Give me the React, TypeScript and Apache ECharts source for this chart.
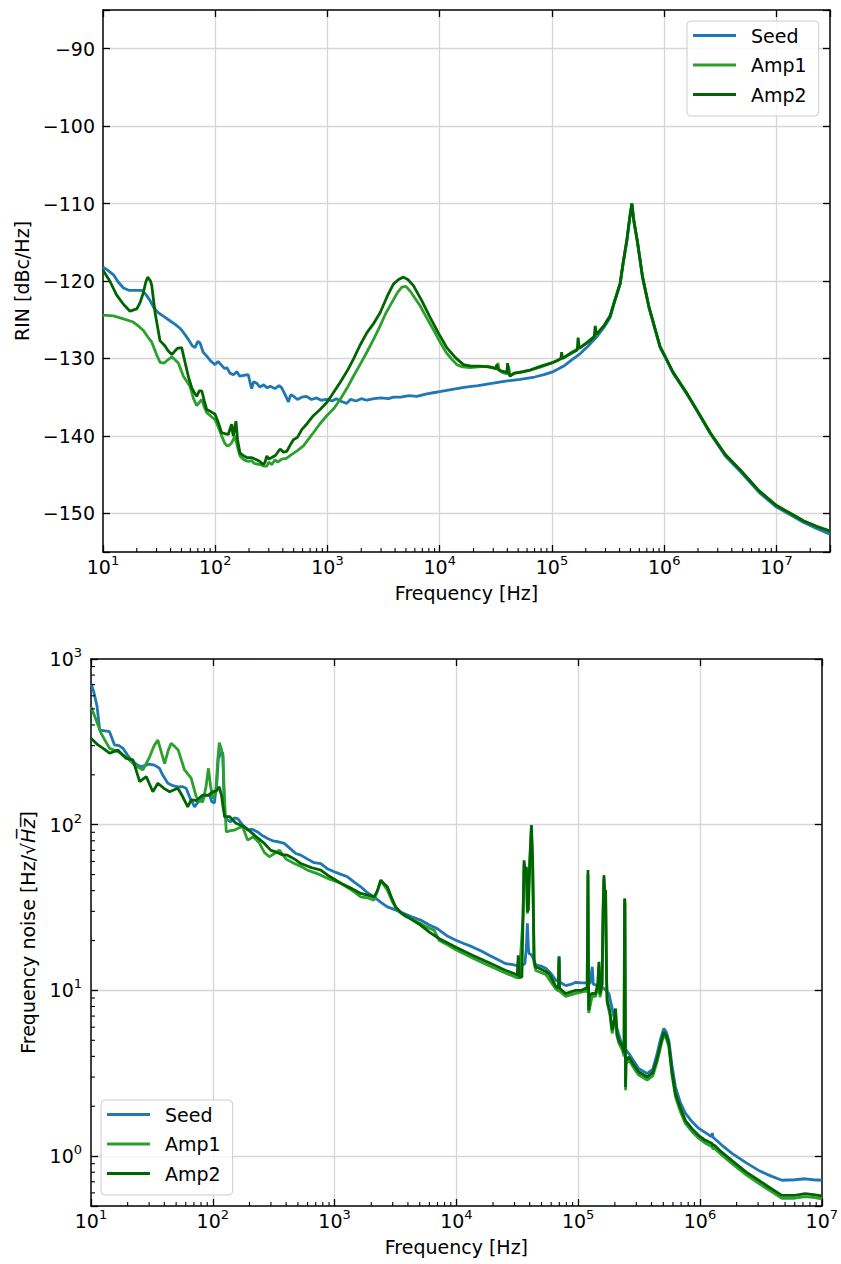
import React, { useEffect, useRef } from 'react';
import * as echarts from 'echarts';

const FONT = 'DejaVu Sans';
const SERIES_NAMES = ['Seed', 'Amp1', 'Amp2'];
const COLORS = ['#1f77b4', '#2ca02c', '#006400'];
const RIN_Y_TICKS = [-150, -140, -130, -120, -110, -100, -90];

// ---- Top panel: RIN [dBc/Hz] vs frequency [Hz]
const RIN_SEED: [number, number][] = [
  [10, -118.2], [11, -118.6], [12.4, -119.2], [13.6, -120.1], [15.2, -120.9], [17, -121.2], [19.5, -121.2],
  [22.1, -121.2], [24, -121.7], [26.2, -122.5], [28.5, -123.5], [31.1, -124.1], [35, -124.6], [40, -125.2],
  [44, -125.6], [48.5, -126.1], [53, -126.8], [58, -127.6], [62, -128.3], [66, -128.6], [70, -127.8],
  [73.2, -128.0], [78, -129.2], [84, -129.7], [92, -130.4], [99.6, -130.8], [106, -130.4], [114, -130.9],
  [121, -131.3], [127, -131.2], [135, -131.9], [145, -132.1], [156, -131.7], [165, -132.3], [180, -132.2],
  [197, -132.1], [205, -133.2], [211, -133.9], [220, -133.0], [234, -133.2], [250, -133.7], [270, -133.4],
  [288, -133.8], [310, -133.6], [340, -133.9], [370, -133.5], [391, -133.8], [420, -134.7], [449, -135.6],
  [470, -134.7], [500, -134.9], [540, -135.3], [590, -135.0], [650, -134.9], [720, -135.3], [800, -135.1],
  [880, -135.4], [985, -135.3], [1100, -135.5], [1200, -135.2], [1350, -135.6], [1486, -135.8], [1600, -135.3],
  [1800, -135.5], [2000, -135.2], [2240, -135.4], [2600, -135.2], [3000, -135.1], [3500, -135.2], [3866, -135.0],
  [4500, -135.0], [5300, -134.8], [6250, -134.9], [7500, -134.6], [9000, -134.4], [10000, -134.3], [13000, -134.0],
  [17000, -133.7], [22000, -133.5], [30000, -133.2], [40000, -132.9], [52000, -132.7], [70000, -132.4],
  [85000, -132.1], [103000, -131.7], [130000, -130.9], [150000, -130.2], [178000, -129.4], [210000, -128.4],
  [251000, -127.2], [290000, -126.0], [330000, -124.7], [356000, -123.0], [405000, -120.4], [430000, -117.8],
  [465000, -114.8], [490000, -112.2], [515000, -110.0], [535000, -112.2], [580000, -115.2], [640000, -119.5],
  [730000, -123.4], [920000, -128.6], [1.0e6, -129.6], [1.2e6, -131.9], [1.59e6, -134.6], [2.0e6, -137.0],
  [2.57e6, -139.7], [3.5e6, -142.6], [4.76e6, -144.6], [7e6, -147.3], [1.0e7, -149.2], [1.4e7, -150.4],
  [1.75e7, -151.2], [2.3e7, -152.0], [3.0e7, -152.7],
];

const RIN_AMP1: [number, number][] = [
  [10, -124.4], [12.4, -124.5], [15.2, -124.9], [18.6, -125.3], [21, -125.9], [22.9, -126.4], [25, -127.2],
  [27.2, -127.9], [30, -129.5], [32.2, -130.5], [35, -130.6], [37, -130.3], [41, -129.8], [44, -130.2],
  [46.9, -130.6], [52, -132.3], [56, -133.0], [59.6, -133.6], [64, -135.2], [68.4, -136.1], [72, -135.7],
  [75.8, -135.3], [80, -136.3], [84, -137.0], [92, -137.5], [99.6, -137.9], [106, -138.8], [114, -140.0],
  [121, -140.9], [127, -141.3], [134, -141.2], [140, -140.9], [150, -140.0], [158, -141.5], [166, -142.6],
  [180, -143.1], [197, -143.3], [210, -143.2], [225, -143.6], [251, -143.7], [270, -143.9], [288, -143.9],
  [300, -143.4], [320, -143.7], [340, -143.1], [360, -143.4], [391, -143.0], [430, -142.9], [481, -142.4],
  [540, -141.9], [610, -141.3], [680, -140.4], [748, -139.6], [850, -138.5], [985, -137.4], [1150, -136.4],
  [1296, -135.3], [1500, -133.8], [1703, -132.3], [1950, -130.8], [2240, -129.2], [2600, -127.4], [2944, -125.8],
  [3300, -124.2], [3740, -122.8], [4200, -121.5], [4590, -120.8], [5000, -120.7], [5445, -121.3], [6000, -122.2],
  [6685, -123.2], [7675, -124.8], [8790, -126.3], [10090, -127.9], [11500, -129.3], [13000, -130.2],
  [14200, -130.8], [16000, -131.1], [18660, -131.2], [22000, -131.1], [26300, -131.0], [30000, -131.2],
  [32260, -131.4], [33000, -130.6], [33800, -131.5], [36000, -131.8], [40000, -132.0], [41000, -131.0],
  [42400, -132.2], [47000, -131.9], [55000, -131.7], [63900, -131.5], [80000, -131.1], [103000, -130.5],
  [130000, -129.8], [150000, -129.2], [178000, -128.6], [210000, -127.8], [251000, -126.9], [290000, -125.8],
  [330000, -124.5], [356000, -122.9], [405000, -120.3], [430000, -117.7], [465000, -114.7], [490000, -112.1],
  [515000, -110.0], [535000, -112.1], [580000, -115.1], [640000, -119.4], [730000, -123.3], [920000, -128.5],
  [1.0e6, -129.5], [1.2e6, -131.8], [1.59e6, -134.5], [2.0e6, -136.9], [2.57e6, -139.6], [3.5e6, -142.4],
  [4.76e6, -144.4], [7e6, -147.1], [1.0e7, -149.0], [1.4e7, -150.2], [1.75e7, -151.0], [2.3e7, -151.7],
  [3.0e7, -152.3],
];

const RIN_AMP2: [number, number][] = [
  [10, -118.6], [11.5, -120.0], [13.2, -121.8], [15.2, -123.0], [17.4, -123.9], [20, -123.6], [21.4, -122.8],
  [22.9, -121.5], [24, -120.2], [25, -119.5], [26.5, -120.0], [27.2, -120.6], [29.1, -124.1], [32.2, -127.7],
  [35.7, -128.4], [38, -129.0], [41, -129.5], [44, -129.0], [46, -128.7], [50.2, -128.6], [53.8, -130.5],
  [58, -132.5], [61.8, -133.8], [65, -134.4], [68.4, -134.9], [72, -134.2], [75.8, -134.2], [80, -135.5],
  [84, -136.6], [92, -136.9], [99.6, -137.2], [106, -138.2], [114, -139.6], [122, -139.7], [131, -139.8],
  [136, -139.0], [140, -138.5], [143, -139.6], [145, -140.0], [149, -139.0], [153, -138.1], [158, -140.5],
  [166, -142.2], [180, -142.6], [191, -142.8], [210, -142.8], [234, -143.1], [250, -143.3], [268, -143.7],
  [278, -143.4], [288, -142.6], [300, -143.0], [319, -142.8], [345, -142.5], [378, -141.7], [405, -142.1],
  [434, -142.0], [465, -141.2], [497, -140.5], [540, -140.2], [590, -139.2], [660, -138.4], [748, -137.4],
  [860, -136.6], [985, -135.7], [1120, -134.5], [1296, -133.1], [1500, -131.6], [1703, -130.1], [1950, -128.3],
  [2240, -126.7], [2600, -125.4], [2944, -124.1], [3400, -122.0], [3866, -120.4], [4300, -119.8], [4745, -119.5],
  [5200, -119.8], [5830, -120.6], [6900, -122.5], [8205, -124.7], [9800, -126.8], [11560, -128.6],
  [13800, -129.9], [16260, -130.8], [19000, -131.0], [22900, -131.0], [27000, -131.1], [31500, -131.3],
  [32260, -130.8], [33000, -131.4], [35000, -131.6], [39600, -131.8], [40300, -130.6], [41000, -131.9],
  [42400, -132.3], [46000, -131.9], [52000, -131.8], [63900, -131.5], [80000, -131.0], [103000, -130.5],
  [115000, -130.2], [120000, -130.0], [122000, -129.2], [124000, -130.0], [150000, -129.3], [168000, -128.9],
  [171000, -127.3], [175000, -128.7], [210000, -127.9], [238000, -127.2], [243000, -125.8], [248000, -126.9],
  [290000, -125.8], [330000, -124.5], [356000, -122.9], [405000, -120.3], [430000, -117.7], [465000, -114.7],
  [490000, -112.1], [515000, -110.0], [535000, -112.1], [580000, -115.1], [640000, -119.4], [730000, -123.3],
  [920000, -128.5], [1.0e6, -129.5], [1.2e6, -131.8], [1.59e6, -134.5], [2.0e6, -136.9], [2.57e6, -139.6],
  [3.5e6, -142.4], [4.76e6, -144.4], [7e6, -147.1], [1.0e7, -149.0], [1.4e7, -150.2], [1.75e7, -151.0],
  [2.3e7, -151.7], [3.0e7, -152.3],
];

// ---- Bottom panel: frequency noise [Hz/sqrt(Hz)] vs frequency [Hz]
const FN_SEED: [number, number][] = [
  [10, 713], [10.5, 640], [11.2, 520], [11.8, 372], [13, 368], [14.2, 364], [15.6, 303], [17, 300], [18.3, 289],
  [20, 262], [21.4, 246], [23.5, 232], [25.8, 224], [28, 228], [30, 232], [33.2, 229], [36.5, 219], [39, 198],
  [42.8, 178], [47, 172], [51.6, 169], [56, 170], [60.4, 166], [65, 145], [70.8, 128], [75, 136], [80.2, 141],
  [87, 150], [94, 151], [98, 138], [103, 135], [108, 180], [111, 250], [113, 257], [117, 275], [121, 270],
  [123, 160], [125, 112], [132, 107], [140, 104], [150, 110], [160, 109], [175, 100], [193, 92.7], [210, 94],
  [233, 90.5], [255, 86], [282, 82.6], [310, 80], [340, 79], [386, 77.1], [430, 72], [480, 67], [528, 65.5],
  [600, 62], [680, 59], [771, 58.3], [880, 54], [993, 52], [1100, 50.5], [1276, 48.5], [1450, 45], [1641, 42.2],
  [1850, 39], [2111, 36.7], [2400, 34], [2712, 31.9], [3200, 30.5], [3715, 29.1], [4300, 27.8], [5080, 26.6],
  [6000, 24.8], [6966, 23.6], [8500, 21.2], [9910, 20.1], [11500, 19.2], [13550, 18.3], [16000, 17.3],
  [18580, 16.3], [22000, 15.3], [25450, 14.5], [29000, 14.3], [31690, 14.1], [33000, 14.0], [35000, 14.2],
  [36500, 14.5], [37500, 18], [38280, 25.4], [39000, 18], [39540, 16.7], [41000, 16.5], [43000, 15.5],
  [44860, 14.2], [50000, 14.0], [54200, 13.6], [60000, 12.6], [65460, 11.5], [68500, 11.3], [69660, 16.1],
  [70800, 11.2], [79030, 10.7], [88000, 10.9], [95430, 11.2], [105000, 11.1], [115200, 11.1], [125000, 11.0],
  [130500, 13.9], [133000, 10.9], [150000, 10.6], [165000, 10.2], [178600, 9.57], [190000, 7.8], [202700, 6.3],
  [222800, 5.0], [240000, 4.5], [260700, 4.16], [314700, 3.37], [368200, 3.15], [410000, 3.35], [444800, 4.16],
  [475000, 5.1], [504700, 5.89], [530000, 5.6], [554600, 5.0], [590000, 3.5], [629400, 2.61], [690000, 2.1],
  [759800, 1.81], [870000, 1.6], [977100, 1.47], [1.1e6, 1.39], [1.24e6, 1.31], [1.26e6, 1.38], [1.28e6, 1.3],
  [1.5e6, 1.17], [1.832e6, 1.04], [2.4e6, 0.91], [3.03e6, 0.82], [3.8e6, 0.76], [4.7e6, 0.715], [6.0e6, 0.72],
  [7.31e6, 0.73], [8.5e6, 0.72], [1e7, 0.715],
];

const FN_AMP1: [number, number][] = [
  [10, 515], [11, 430], [12.1, 356], [14.2, 289], [16.6, 276], [20.1, 251], [22.8, 229], [26.7, 214], [30.3, 257],
  [33, 300], [35.4, 324], [38, 270], [40.2, 234], [43, 280], [45.5, 310], [49, 295], [52, 282], [58.6, 214],
  [66.4, 191], [73, 148], [77, 140], [82.8, 137], [88, 170], [92.1, 219], [96, 170], [100, 144], [106, 160],
  [110, 250], [113, 313], [117, 290], [121, 257], [125, 140], [129, 90.5], [140, 92], [150, 92.7], [165, 96],
  [176, 97.1], [193, 80.7], [215, 84.5], [240, 78], [265, 68], [291, 64.0], [330, 68], [352, 70.3], [400, 62],
  [467, 58.3], [530, 56], [600, 53.2], [700, 51], [771, 49.6], [900, 47], [1125, 44.3], [1400, 40], [1641, 36.7],
  [1900, 36], [2111, 35.1], [2250, 40], [2393, 46.2], [2550, 43], [2712, 40.3], [3000, 34], [3273, 30.5],
  [3800, 28], [4487, 26.6], [5500, 24.5], [6546, 23.1], [7244, 20.0], [8500, 18.8], [9910, 17.6], [13550, 15.7],
  [18580, 14.1], [25450, 12.7], [31690, 11.9], [32200, 15], [32720, 11.7], [35300, 28], [35960, 58], [37000, 45],
  [37560, 53], [38280, 29], [40000, 55], [41300, 95], [42300, 55], [43450, 14.5], [44860, 13.2], [54200, 12.5],
  [65460, 10.2], [69000, 9.9], [69660, 15], [70300, 9.9], [79030, 9.2], [95430, 9.6], [115200, 9.9],
  [118500, 9.8], [120300, 50], [122000, 7.3], [130000, 9.2], [139000, 9.2], [145000, 10.5], [148000, 14],
  [151000, 9.1], [157000, 10.5], [160000, 28], [162700, 47], [165000, 38], [168000, 38], [171000, 11.5],
  [173000, 8.4], [182000, 7.2], [190100, 5.5], [197000, 6.2], [202700, 7.4], [208000, 5.3], [215800, 4.8],
  [230000, 4.4], [238000, 4.0], [240300, 34], [242000, 33], [244900, 2.5], [247000, 3.6], [260700, 3.8],
  [290000, 3.35], [314700, 3.08], [368200, 2.88], [410000, 3.05], [444800, 3.72], [480000, 4.7], [504700, 5.4],
  [530000, 5.1], [554600, 4.6], [590000, 3.05], [629400, 2.28], [690000, 1.86], [759800, 1.57], [870000, 1.39],
  [977100, 1.28], [1.1e6, 1.2], [1.256e6, 1.14], [1.28e6, 1.1], [1.3e6, 1.12], [1.5e6, 1.02], [1.832e6, 0.90],
  [2.4e6, 0.77], [3.03e6, 0.685], [3.8e6, 0.615], [4.7e6, 0.557], [6.0e6, 0.557], [7.31e6, 0.57], [8.5e6, 0.563],
  [1e7, 0.553],
];

const FN_AMP2: [number, number][] = [
  [10, 332], [11.4, 303], [12.5, 290], [14.2, 270], [16.6, 282], [19.5, 251], [22.1, 246], [25.1, 182],
  [28.4, 195], [32.2, 158], [35.4, 178], [40, 165], [44.2, 158], [51.6, 166], [56, 150], [62.3, 128], [66.4, 141],
  [73, 140], [82.8, 151], [92.1, 151], [100, 158], [107, 160], [113, 169], [118, 150], [121, 130], [125, 112],
  [137, 112], [155, 102], [182, 97.1], [200, 92], [219, 86.5], [240, 82], [265, 77.1], [300, 70], [330, 68.5],
  [370, 66], [411, 65.5], [470, 62], [528, 58.3], [650, 55], [771, 53.2], [900, 49], [1125, 44.3], [1400, 41],
  [1641, 38.5], [1900, 37.5], [2111, 36.7], [2250, 40], [2393, 46.2], [2550, 44], [2712, 42.2], [2950, 36],
  [3172, 31.9], [3500, 29.5], [3953, 27.8], [4500, 26.2], [5080, 24.8], [6000, 22.5], [7244, 20.5], [8500, 19.3],
  [9910, 18.2], [13550, 16.3], [18580, 14.7], [25450, 13.2], [30000, 12.6], [31690, 12.4], [32200, 16.3],
  [32720, 12.1], [34500, 12.0], [35300, 30], [35960, 61], [36800, 50], [37560, 55.7], [38280, 30], [39000, 30.5],
  [40000, 60], [41300, 99.6], [42300, 60], [43450, 15.2], [44860, 13.8], [47750, 13.6], [54200, 13.0],
  [57680, 12.6], [65460, 10.6], [69000, 10.3], [69660, 15.9], [70300, 10.3], [79030, 9.57], [87000, 9.8],
  [95430, 10.0], [105000, 10.0], [115200, 10.3], [118500, 10.2], [120300, 53.2], [122000, 7.6], [124000, 9.3],
  [130000, 9.6], [139000, 9.57], [145000, 11], [148000, 14.9], [151000, 9.5], [157000, 11], [160000, 30],
  [162700, 49.6], [165000, 40], [168000, 40.3], [171000, 12], [173000, 8.73], [182000, 7.5], [190100, 5.76],
  [197000, 6.5], [202700, 7.78], [208000, 5.5], [215800, 5.0], [230000, 4.6], [238000, 4.2], [240300, 35.9],
  [242000, 35], [244900, 2.61], [247000, 3.8], [260700, 3.97], [290000, 3.5], [314700, 3.22], [368200, 3.0],
  [410000, 3.2], [444800, 3.88], [480000, 4.9], [504700, 5.61], [530000, 5.3], [554600, 4.78], [590000, 3.2],
  [629400, 2.38], [690000, 1.95], [759800, 1.64], [870000, 1.45], [977100, 1.33], [1.1e6, 1.25], [1.256e6, 1.19],
  [1.28e6, 1.15], [1.3e6, 1.17], [1.5e6, 1.06], [1.832e6, 0.94], [2.4e6, 0.80], [3.03e6, 0.715], [3.8e6, 0.64],
  [4.7e6, 0.58], [6.0e6, 0.58], [7.31e6, 0.593], [8.5e6, 0.585], [1e7, 0.575],
];

// minor ticks of the log axes (2..9 x 10^k)
const minorLogTicks = (lo: number, hi: number): number[] => {
  const out: number[] = [];
  for (let d = lo; d < hi; d *= 10) {
    for (let m = 2; m <= 9; m++) {
      const v = m * d;
      if (v > lo && v < hi) out.push(v);
    }
  }
  return out;
};

const App: React.FC = () => {
  const ref = useRef<HTMLDivElement>(null);

  useEffect(() => {
    document.body.style.margin = '0';
    if (!ref.current) return;
    const chart = echarts.init(ref.current, undefined, { renderer: 'svg' });

    const supLabel = (v: number) => {
      const e = Math.log10(v);
      const r = Math.round(e);
      if (Math.abs(e - r) > 1e-6) return '';
      return `{b|10}{s|${r}}`;
    };
    const richSup = {
      b: { fontFamily: FONT, fontSize: 19, color: '#000', lineHeight: 26 },
      s: { fontFamily: FONT, fontSize: 13, color: '#000', lineHeight: 13, verticalAlign: 'top' },
    };
    const tickIn = { show: true, inside: true, length: 7, lineStyle: { color: '#000', width: 1.3 } };
    const axisLine = { show: true, onZero: false, lineStyle: { color: '#000', width: 1.5 } };
    const split = {
      show: true,
      showMinLine: false,
      showMaxLine: false,
      lineStyle: { color: '#d6d6d6', width: 1.3 },
    };
    const nameStyle = { fontFamily: FONT, fontSize: 19, color: '#000' };

    const xMinor = (params: any, api: any) => {
      const cs = params.coordSys;
      const p = api.coord([api.value(0), api.value(1)]);
      const yb = cs.y + cs.height;
      return {
        type: 'line',
        shape: { x1: p[0], y1: yb, x2: p[0], y2: yb - 4 },
        style: { stroke: '#000', lineWidth: 1.1 },
      };
    };
    const yMinor = (params: any, api: any) => {
      const cs = params.coordSys;
      const p = api.coord([api.value(0), api.value(1)]);
      return {
        type: 'line',
        shape: { x1: cs.x, y1: p[1], x2: cs.x + 4, y2: p[1] },
        style: { stroke: '#000', lineWidth: 1.1 },
      };
    };

    const lineSeries = (name: string, data: [number, number][], idx: number, axis: number) => ({
      type: 'line',
      name,
      data,
      xAxisIndex: axis,
      yAxisIndex: axis,
      showSymbol: false,
      symbol: 'none',
      lineStyle: { color: COLORS[idx], width: 2.8 },
      itemStyle: { color: COLORS[idx] },
      z: 3 + idx,
    });

    const legendBase = {
      data: SERIES_NAMES,
      orient: 'vertical',
      icon: 'rect',
      itemWidth: 43,
      itemHeight: 3,
      itemGap: 10.5,
      padding: [5, 12, 12, 6],
      backgroundColor: 'rgba(255,255,255,0.8)',
      borderColor: '#cccccc',
      borderWidth: 1,
      borderRadius: 4,
      selectedMode: false,
      textStyle: { fontFamily: FONT, fontSize: 19, color: '#000', padding: [0, 0, 0, 10] },
    };

    const option: any = {
      animation: false,
      backgroundColor: '#fff',
      textStyle: { fontFamily: FONT },
      grid: [
        { left: 103, top: 10, width: 727, height: 542 },
        { left: 91, top: 659, width: 732, height: 547 },
      ],
      legend: [
        { ...legendBase, left: 687, top: 21 },
        { ...legendBase, left: 101, top: 1100 },
      ],
      xAxis: [
        {
          gridIndex: 0, type: 'log', logBase: 10, min: 10, max: 3e7,
          axisLine, axisTick: tickIn, splitLine: split,
          axisLabel: { formatter: supLabel, rich: richSup, margin: 2, showMinLabel: true, showMaxLabel: true },
          name: 'Frequency [Hz]', nameLocation: 'middle', nameGap: 31, nameTextStyle: nameStyle,
        },
        {
          gridIndex: 0, type: 'log', logBase: 10, min: 10, max: 3e7, position: 'top',
          axisLine, axisTick: tickIn, splitLine: { show: false }, axisLabel: { show: false },
        },
        {
          gridIndex: 1, type: 'log', logBase: 10, min: 10, max: 1e7,
          axisLine, axisTick: tickIn, splitLine: split,
          axisLabel: { formatter: supLabel, rich: richSup, margin: 2, showMinLabel: true, showMaxLabel: true },
          name: 'Frequency [Hz]', nameLocation: 'middle', nameGap: 31, nameTextStyle: nameStyle,
        },
        {
          gridIndex: 1, type: 'log', logBase: 10, min: 10, max: 1e7, position: 'top',
          axisLine, axisTick: tickIn, splitLine: { show: false }, axisLabel: { show: false },
        },
      ],
      yAxis: [
        {
          gridIndex: 0, type: 'value', min: -155, max: -85, splitNumber: 7,
          axisLine, axisTick: tickIn, splitLine: split,
          axisLabel: {
            formatter: (v: number) =>
              RIN_Y_TICKS.includes(v) ? (v < 0 ? '\u2212' + Math.abs(v) : String(v)) : '',
            fontFamily: FONT, fontSize: 19, color: '#000', margin: 8,
          },
          name: 'RIN [dBc/Hz]', nameLocation: 'middle', nameGap: 71, nameTextStyle: nameStyle,
        },
        {
          gridIndex: 0, type: 'value', min: -155, max: -85, splitNumber: 7, position: 'right',
          axisLine, axisTick: tickIn, splitLine: { show: false }, axisLabel: { show: false },
        },
        {
          gridIndex: 1, type: 'log', logBase: 10, min: 0.5, max: 1000,
          axisLine, axisTick: tickIn, splitLine: split,
          axisLabel: { formatter: supLabel, rich: richSup, margin: 9, showMinLabel: true, showMaxLabel: true },
          name: 'Frequency noise [Hz/\u221A{i|H\u0305z\u0305}]', nameLocation: 'middle', nameGap: 54,
          nameTextStyle: {
            ...nameStyle,
            rich: { i: { fontFamily: FONT, fontSize: 19, fontStyle: 'italic', color: '#000' } },
          },
        },
        {
          gridIndex: 1, type: 'log', logBase: 10, min: 0.5, max: 1000, position: 'right',
          axisLine, axisTick: tickIn, splitLine: { show: false }, axisLabel: { show: false },
        },
      ],
      series: [
        lineSeries('Seed', RIN_SEED, 0, 0),
        lineSeries('Amp1', RIN_AMP1, 1, 0),
        lineSeries('Amp2', RIN_AMP2, 2, 0),
        lineSeries('Seed', FN_SEED, 0, 2),
        lineSeries('Amp1', FN_AMP1, 1, 2),
        lineSeries('Amp2', FN_AMP2, 2, 2),
        {
          type: 'custom', xAxisIndex: 0, yAxisIndex: 0, silent: true, clip: false, z: 10,
          data: minorLogTicks(10, 3e7).map((v) => [v, -120]), renderItem: xMinor,
        },
        {
          type: 'custom', xAxisIndex: 2, yAxisIndex: 2, silent: true, clip: false, z: 10,
          data: minorLogTicks(10, 1e7).map((v) => [v, 1]), renderItem: xMinor,
        },
        {
          type: 'custom', xAxisIndex: 2, yAxisIndex: 2, silent: true, clip: false, z: 10,
          data: minorLogTicks(0.1, 1000).filter((v) => v > 0.5).map((v) => [100, v]), renderItem: yMinor,
        },
      ],
    };

    chart.setOption(option);
    return () => chart.dispose();
  }, []);

  return (
    <div
      ref={ref}
      style={{ position: 'absolute', left: 0, top: 0, width: 841, height: 1264, background: '#fff' }}
    />
  );
};

export default App;
